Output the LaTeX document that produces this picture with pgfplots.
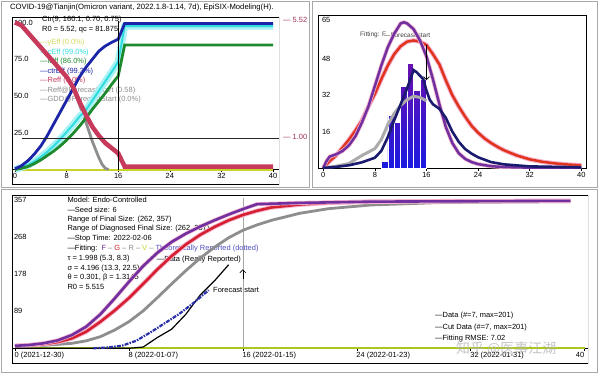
\documentclass[border=0pt]{standalone}
\usepackage{fontspec}
\setmainfont{Liberation Sans}
\newfontfamily\cjk{Noto Sans CJK SC}
\usepackage{pgfplots}
\usepackage{pgfplotstable}
\pgfplotsset{compat=1.18}
\usetikzlibrary{arrows.meta}

\definecolor{cYeff}{HTML}{C8D42A}
\definecolor{cYtxt}{HTML}{D4D860}
\definecolor{cCeff}{HTML}{30DCE0}
\definecolor{cCeffL}{HTML}{A8F2F4}
\definecolor{cIeff}{HTML}{1E8A2E}
\definecolor{cCtr}{HTML}{1C24A8}
\definecolor{cReff}{HTML}{C83A5C}
\definecolor{cGrey}{HTML}{8E8E8E}
\definecolor{cLGrey}{HTML}{ABABAB}
\definecolor{cPurple}{HTML}{7030A0}
\definecolor{cRed}{HTML}{E0341E}
\definecolor{cCRed}{HTML}{D42030}
\definecolor{cPink}{HTML}{F6B4D0}
\definecolor{cNavy}{HTML}{1A1A6E}
\definecolor{cBarTop}{HTML}{6A10B0}
\definecolor{cBarBot}{HTML}{1A1AE0}
\definecolor{cDot}{HTML}{2A30A8}
\definecolor{cTheo}{HTML}{5050C0}
\definecolor{cLime}{HTML}{A8C81E}
\definecolor{cFrame}{HTML}{A8A8A8}
\definecolor{cRlab}{HTML}{A03050}

\newcommand{\tf}{\fontsize{7.5}{8.5}\selectfont}

% ---------- Panel A ----------
\pgfplotstableread{
x y
0 0.5
1 2.5
2 6
3 10.5
4 16
5 23
6 31
7 39
8 47
9 55
10 63
11 69.5
12 75
13 80.5
14 84
15 86.5
16 88.6
17 99.3
40 99.3
}\tCtr
\pgfplotstableread{
x y
0 0
1 1.5
2 3
3 5.5
4 8.5
5 12
6 16
7 20.5
8 25.5
9 30.5
10 36
11 40.5
12 47
13 53.5
14 60
15 66.5
16 73.3
17 97.5
40 97.5
}\tCeff
\pgfplotstableread{
x y
0 0
1 0.8
2 2
3 4
4 6.5
5 9.5
6 12.5
7 16
8 20
9 24.5
10 29.5
11 35
12 41
13 46.5
14 52
15 58
16 63.6
17 84.7
40 84.7
}\tIeff
\pgfplotstableread{
x y
0 100
1 98
2 93
3 88
4 83
5 78
6 73
7 68
8 63
9 56
10 46
11 37
12 29
13 23
14 18
15 14.5
16 11
17 2
40 2
}\tReff
\pgfplotstableread{
x y
0 100
1 98
2 93
3 88
4 83
5 78
6 73
7 68
8 63
9 56
10 44
11 32
12 19
13 8
13.5 3.5
14 0.8
14.5 0
}\tGdd
\pgfplotstableread{
x y
0 0
40 0
}\tYeff

% ---------- Panel B ----------
\pgfplotstableread{
x y
9.5 3
10.5 23
11.5 20
12.5 36
13.5 46
14.5 34
15.5 39
}\tBars
\pgfplotstableread{
x y
0 0
0.5 3
1 5
2 6
3 7.5
4 10
5 14
6 20
7 27
8 36
9 45
10 53
11 59
12 63.5
12.5 64
13 63.5
14 61
15 56
16 49
17 39
18 28
19 18
20 11
21 6.5
22 4
23 2.6
24 1.7
26 0.8
28 0.4
32 0.15
40 0
}\tBpur
\pgfplotstableread{
x y
0 0
0.5 1.5
1 3
2 5.5
3 9
4 12.5
5 16.5
6 21
7 27
8 32.5
9 39
10 45
11 50
12 53.5
13 55.5
14 56
15 55.5
16 54
17 50
18 45.5
19 38.5
20 32
21 27
22 22.5
23 18.5
24 15.5
25 13
26 11
27 9.3
28 7.8
30 5.5
32 3.8
34 2.7
36 2
38 1.5
40 1.2
}\tBred
\pgfplotstableread{
x y
0 0
2 0.8
4 2
6 5.5
8 8.5
9 12.5
10 19
11 24
12 27.5
13 30
14 31.5
15 31
16 29.5
}\tBgry
\pgfplotstableread{
x y
0 0
2 0.5
4 1.2
6 2.5
8 4.5
9 7.5
10 13.5
11 21
12 28
13 35
14 43
14.5 42
15 40.5
15.5 39
16 34
16.5 30
17 28
18 26
19 22
20 16
21 11.5
22 8.3
23 6.3
24 4.7
26 2.6
28 1.6
32 0.7
40 0.3
}\tBnav

% ---------- Panel C ----------
\pgfplotstableread{
x y
0 6
1 8
2 12
3 19
4 32
5 52
6 82
7 120
8 160
9 198
10 230
11 256
12 276
13 293
14 308
15 322
16 335
17 347
20 350
25 353
39 355
}\tCpur
\pgfplotstableread{
x y
0 6
1 7
2 10
3 15
4 24
5 40
6 64
7 91
8 121
9 155
10 190
11 222
12 250
13 273
14 292
15 308
16 321
17 331
18 339
20 346
22 350
25 353
30 354
39 355
}\tCred
\pgfplotstableread{
x y
0 5
2 7
4 12
5 18
6 28
7 44
8 64
9 90
10 122
11 155
12 187
13 217
14 243
15 266
16 284
17 297
18 308
20 325
22 336
25 345
30 351
39 353
}\tCgry
\pgfplotstableread{
x y
5.5 0
6.5 2
7.5 6
8.5 18
9.5 38
10.5 60
11.5 82
12.5 108
13.6 140
}\tCdot
\pgfplotstableread{
x y
0 0
8 0
9 3
10 26
11 46
12 82
13 128
14 162
15 201
}\tCdat
\pgfplotstableread{
x y
0 0
40 0
}\tCv

\pgfplotsset{
  /pgf/number format/assume math mode=true,
  every axis/.append style={
    tick label style={font=\tf},
    axis line style={black, line width=0.9bp},
    tick style={black, line width=0.5bp},
    major tick length=2.5bp,
    tick align=outside,
  },
}

\begin{document}
\begin{tikzpicture}[every node/.style={font=\tf}]
\useasboundingbox (0,0) rectangle (600bp,-375bp);
\fill[white] (0,0) rectangle (600bp,-375bp);
\draw[cFrame, line width=0.8bp] (1.5bp,-1.5bp) rectangle (309bp,-187bp);
\draw[cFrame, line width=0.8bp] (312bp,-1.5bp) rectangle (597.5bp,-187bp);
\draw[cFrame, line width=0.8bp] (1.5bp,-189.5bp) rectangle (597.5bp,-372.5bp);

% ================= Texts (under the curves, as in the original) =================
\node[anchor=west, inner sep=0, font=\fontsize{7.7}{8.5}\selectfont] at (10bp,-8bp) {COVID-19@Tianjin(Omicron variant, 2022.1.8-1.14, 7d), EpiSIX-Modeling(H).};
\node[anchor=west, inner sep=0] at (42bp,-20bp) {Ctr(9, 160.1, 0.70, 0.75)};
\node[anchor=west, inner sep=0] at (42bp,-29.5bp) {R0 = 5.52, qc = 81.875};
\node[anchor=west, inner sep=0, text=cYtxt] at (40bp,-43bp) {—yEff (0.0\%)};
\node[anchor=west, inner sep=0, text=cCeff] at (40bp,-52.5bp) {—cEff (99.0\%)};
\node[anchor=west, inner sep=0, text=cIeff] at (40bp,-62bp) {—iEff (86.0\%)};
\node[anchor=west, inner sep=0, text=cCtr] at (40bp,-71.5bp) {—ctrEff (99.3\%)};
\node[anchor=west, inner sep=0, text=cReff] at (40bp,-81bp) {—Reff (0.0\%)};
\node[anchor=west, inner sep=0, text=cGrey] at (40bp,-90.5bp) {—Reff@ForecastStart (0.58)};
\node[anchor=west, inner sep=0, text=cGrey] at (40bp,-100bp) {—GDD@ForecastStart (0.0\%)};
\node[anchor=west, inner sep=0, text=cRlab] at (283bp,-20bp) {— 5.52};
\node[anchor=west, inner sep=0, text=cRlab] at (283bp,-137bp) {— 1.00};

\node[anchor=west, inner sep=0, text=black!75, font=\fontsize{6.5}{7.5}\selectfont] at (360bp,-35bp) {Fitting: F};
\node[anchor=west, inner sep=0, text=black!75, font=\fontsize{6.5}{7.5}\selectfont] at (384bp,-35bp) {—Forecast start};

\node[anchor=west, inner sep=0] at (67.3bp,-200bp) {Model: Endo-Controlled};
\node[anchor=west, inner sep=0] at (67.3bp,-209.5bp) {—Seed size: 6};
\node[anchor=west, inner sep=0] at (67.3bp,-219.3bp) {Range of Final Size: (262, 357)};
\node[anchor=west, inner sep=0] at (67.3bp,-228.8bp) {Range of Diagnosed Final Size: (262, 357)};
\node[anchor=west, inner sep=0] at (67.3bp,-238.4bp) {—Stop Time: 2022-02-06};
\node[anchor=west, inner sep=0] at (67.3bp,-248.3bp) {—Fitting:\ \ \textcolor{cPurple}{F} \textcolor{black!50}{–} \textcolor{cCRed}{G} \textcolor{black!50}{–} \textcolor{cGrey}{R} \textcolor{black!50}{–} \textcolor{cYeff}{V} \textcolor{black!50}{–} \textcolor{cTheo}{Theoretically Reported (dotted)}};
\node[anchor=west, inner sep=0] at (67.3bp,-258.3bp) {τ = 1.998 (5.3, 8.3)};
\node[anchor=west, inner sep=0] at (67.3bp,-268.2bp) {σ = 4.196 (13.3, 22.5)};
\node[anchor=west, inner sep=0] at (67.3bp,-277.7bp) {θ = 0.301, β = 1.3145};
\node[anchor=west, inner sep=0] at (67.3bp,-287.3bp) {R0 = 5.515};
\node[anchor=west, inner sep=0] at (156.7bp,-260bp) {—Data (Really Reported)};
\node[anchor=west, inner sep=0] at (213bp,-290bp) {Forecast start};
\node[anchor=west, inner sep=0] at (435bp,-315.7bp) {—Data (\#=7, max=201)};
\node[anchor=west, inner sep=0] at (435bp,-327.5bp) {—Cut Data (\#=7, max=201)};
\node[anchor=west, inner sep=0] at (435bp,-338.3bp) {—Fitting RMSE: 7.02};

% ================= Panel A =================
\begin{axis}[at={(12bp,-17bp)}, anchor=north west, scale only axis,
  width=267bp, height=167bp,
  xmin=-0.47, xmax=40.93, ymin=-9.86, ymax=103.7,
  axis x line*=middle, axis y line*=left,
  xtick={0,8,16,24,32,40},
  ytick={25,50,75,100}, yticklabels={25.0,50.0,75.0,100.0},
  ytick style={draw=none},
  yticklabel style={anchor=west, xshift=1bp},
  xticklabel style={inner sep=1.5bp},
]
\draw[black, line width=0.9bp] (rel axis cs:0,0) rectangle (rel axis cs:1,1);
\addplot[cYeff, line width=2bp] table {\tYeff};
\addplot[cGrey, line width=2.8bp] table {\tGdd};
\addplot[cCeffL, line width=7bp] table {\tCeff};
\addplot[cCeff, line width=2bp] table {\tCeff};
\addplot[cIeff, line width=2.8bp] table {\tIeff};
\addplot[cCtr, line width=2.8bp] table {\tCtr};
\addplot[cReff, line width=4.5bp] table {\tReff};
\draw[black!85, line width=0.6bp] (axis cs:1.1,21.4) -- (axis cs:40.93,21.4);
\draw[black, line width=0.8bp] (axis cs:16,0) -- (axis cs:16,101);
\end{axis}

% ================= Panel B =================
\begin{axis}[at={(318bp,-15bp)}, anchor=north west, scale only axis,
  width=268bp, height=153bp,
  xmin=-0.81, xmax=40.72, ymin=0, ymax=67.2,
  xtick={0,8,16,24,32,40}, ytick={16,32,48,65},
  tick pos=left,
  ytick style={draw=none},
  yticklabel style={anchor=west, xshift=3bp},
  xticklabel style={inner sep=2bp},
]
\addplot[ybar, bar width=1, draw=white, line width=0.5bp,
  top color=cBarTop, bottom color=cBarBot] table {\tBars};
\addplot[cLGrey, line width=3bp] table {\tBgry};
\addplot[cPink, line width=4.5bp] table {\tBred};
\addplot[cRed, line width=2.5bp] table {\tBred};
\addplot[cPink, line width=4bp] table {\tBpur};
\addplot[cPurple, line width=2.5bp] table {\tBpur};
\addplot[cNavy, line width=2.6bp] table {\tBnav};
\draw[black, line width=0.7bp, -{Straight Barb[length=3bp]}] (axis cs:16,54) -- (axis cs:16,38.6);
\end{axis}

% ================= Panel C =================
\begin{axis}[at={(12bp,-195bp)}, anchor=north west, scale only axis,
  width=576bp, height=168bp,
  xmin=-0.21, xmax=40.24, ymin=-35.4, ymax=369,
  axis x line*=middle, axis y line*=left,
  xtick={0,8,16,24,32,40},
  xticklabels={{0 (2021-12-30)},{8 (2022-01-07)},{16 (2022-01-15)},{24 (2022-01-23)},{32 (2022-01-31)},{\llap{40}}},
  xticklabel style={anchor=north west, xshift=-2bp, inner sep=1.5bp},
  ytick={89,178,268,357},
  ytick style={draw=none},
  yticklabel style={anchor=west, xshift=1bp},
]
\draw[black, line width=0.9bp] (rel axis cs:0,0) rectangle (rel axis cs:1,1);
\draw[black!35, line width=0.6bp] (axis cs:16,0) -- (axis cs:16,362);
\addplot[cLime, line width=2.2bp] table {\tCv};
\addplot[cGrey, line width=2.8bp] table {\tCgry};
\addplot[cPink, line width=4.5bp] table {\tCred};
\addplot[cCRed, line width=2.6bp] table {\tCred};
\addplot[cPink, line width=4bp] table {\tCpur};
\addplot[cPurple, line width=2.6bp] table {\tCpur};
\addplot[black, line width=1.2bp] table {\tCdat};
\addplot[cDot, line width=2.2bp, dash pattern=on 4bp off 1.2bp on 1.5bp off 1.2bp] table {\tCdot};
\draw[black, line width=0.6bp, -{Straight Barb[length=3bp]}] (axis cs:16,168) -- (axis cs:16,190);
\end{axis}

\node[anchor=west, inner sep=0, text=black!30, opacity=0.75, font=\cjk\fontsize{14}{15}\selectfont] at (456bp,-349bp) {知乎 @医事江湖};
\end{tikzpicture}
\end{document}
